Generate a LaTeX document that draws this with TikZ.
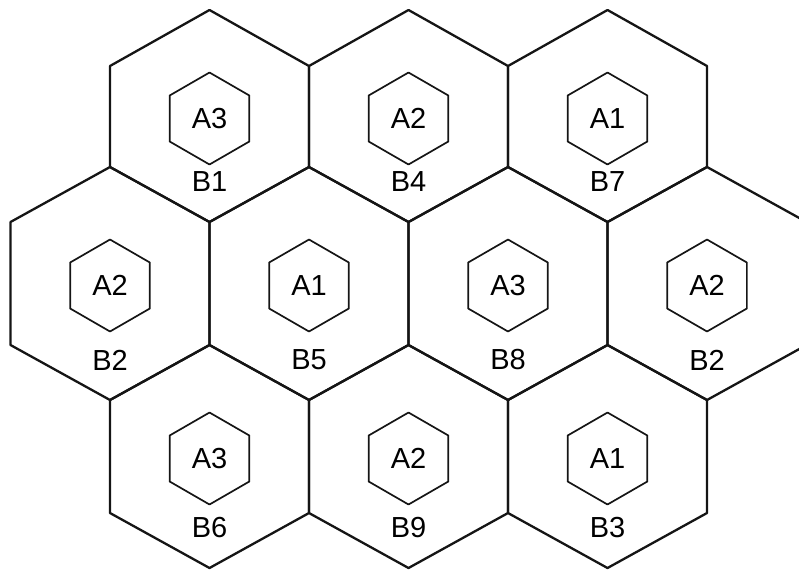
\documentclass[tikz,border=0pt]{standalone}
\usepackage{fontspec}
\setmainfont{Liberation Sans}
\usetikzlibrary{shapes.geometric}
\definecolor{cellline}{HTML}{151515}

\begin{document}
\begin{tikzpicture}[
  x=1pt,
  y=-1pt,
  line join=round,
  line cap=round,
  cell/.style={draw=cellline,line width=2.3pt},
  site/.style={draw=cellline,line width=1.7pt,regular polygon,regular polygon sides=6,
    shape border rotate=30,minimum size=92pt,inner sep=0pt,font=\fontsize{29}{29}\selectfont},
  cellname/.style={inner sep=0pt,font=\fontsize{29}{29}\selectfont}
]
  % Page frame, in pixels of the scanned figure.
  \useasboundingbox (0,0) rectangle (799,571);

  % One entry per cell: centre x, the four vertex levels, inner site, cell name.
  \foreach \cx/\ya/\yb/\yc/\yd/\s/\c [count=\i] in {
      209.5/10/66/167/222/A3/B1, 408.5/10/66/167/222/A2/B4, 607.5/10/66/167/222/A1/B7,
      110/167/222/345/400/A2/B2, 309/167/222/345/400/A1/B5,
      508/167/222/345/400/A3/B8, 707/167/222/345/400/A2/B2,
      209.5/345/400/513/568/A3/B6, 408.5/345/400/513/568/A2/B9, 607.5/345/400/513/568/A1/B3} {
    % Outer cell outline.
    \draw[cell] (\cx,\ya) -- ({\cx+99.5},\yb) -- ({\cx+99.5},\yc) -- (\cx,\yd)
      -- ({\cx-99.5},\yc) -- ({\cx-99.5},\yb) -- cycle;
    % Inner site and the cell's name below it.
    \node[site] (site\i) at (\cx,{(\yb+\yc)/2+2}) {\s};
    \node[cellname] (name\i) at (\cx,{\yd-40}) {\c};
  }
\end{tikzpicture}
\end{document}
